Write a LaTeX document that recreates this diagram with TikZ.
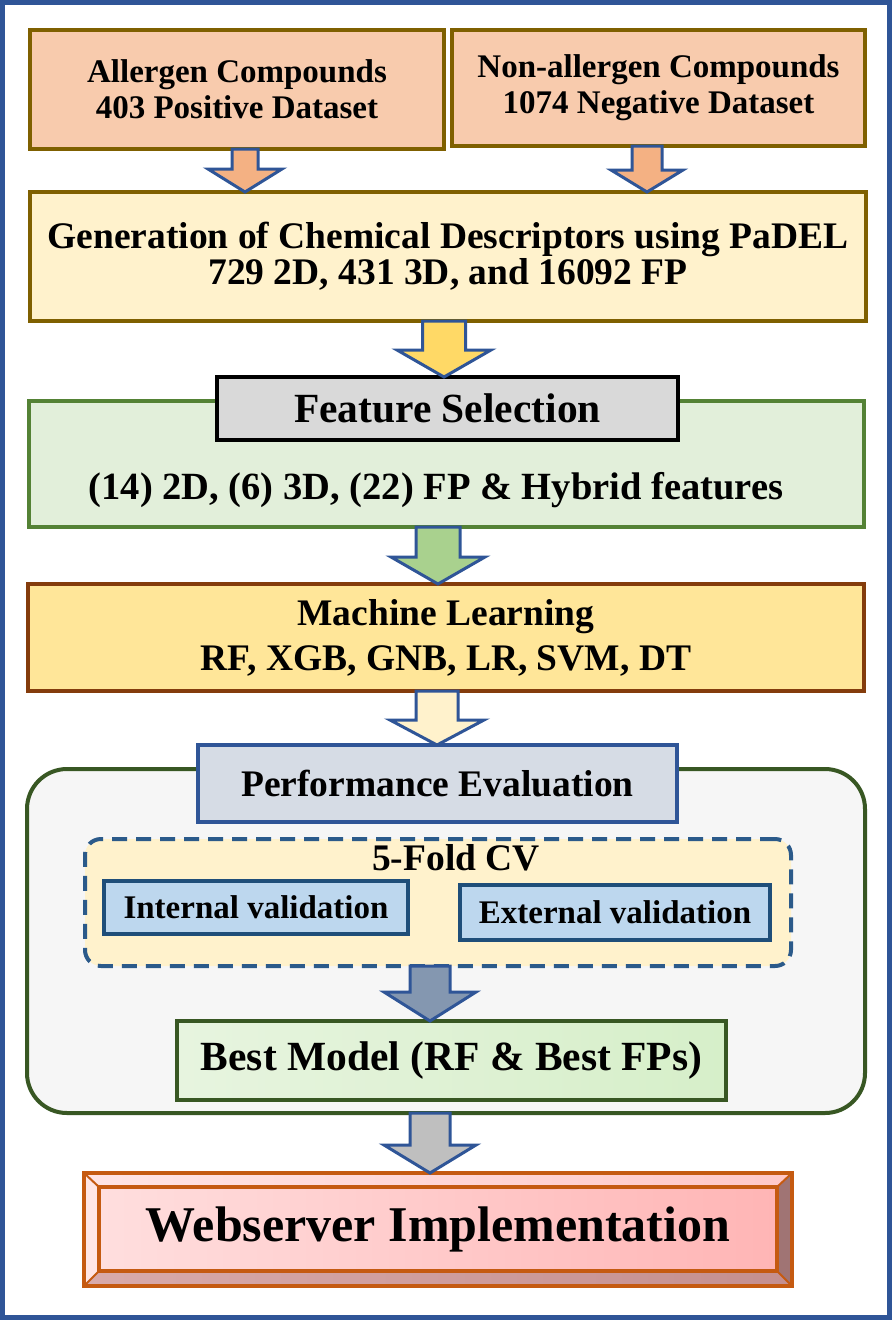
\documentclass[tikz,border=0pt]{standalone}
\usepackage{fontspec}
\setmainfont{Liberation Serif}
\usetikzlibrary{calc}
\definecolor{cFrame}{HTML}{2F5597}
\definecolor{cPeach}{HTML}{F8CBAD}
\definecolor{cOlive}{HTML}{7F6000}
\definecolor{cCream}{HTML}{FFF2CC}
\definecolor{cGreenFill}{HTML}{E2EFDA}
\definecolor{cGreenLine}{HTML}{548235}
\definecolor{cGray}{HTML}{D9D9D9}
\definecolor{cGold}{HTML}{FFE699}
\definecolor{cBrown}{HTML}{843C0C}
\definecolor{cBigFill}{HTML}{F6F6F6}
\definecolor{cDkGreen}{HTML}{385723}
\definecolor{cPerf}{HTML}{D6DCE5}
\definecolor{cDash}{HTML}{2B5A8A}
\definecolor{cBlueFill}{HTML}{BDD7EE}
\definecolor{cBlueLine}{HTML}{1F4E79}
\definecolor{cWebLine}{HTML}{C55A11}
\definecolor{cArrA}{HTML}{F4B183}
\definecolor{cArrB}{HTML}{FFD966}
\definecolor{cArrC}{HTML}{A9D18E}
\definecolor{cArrD}{HTML}{FFF2CC}
\definecolor{cArrE}{HTML}{8497B0}
\definecolor{cArrF}{HTML}{BFBFBF}
\definecolor{cBestL}{HTML}{E7F4DF}
\definecolor{cBestR}{HTML}{D6EFC9}
\definecolor{cWebL}{HTML}{FFDEDE}
\definecolor{cWebR}{HTML}{FFB5B5}
\definecolor{cBevTopL}{HTML}{FFE4E4}
\definecolor{cBevTopR}{HTML}{FFC8C8}
\definecolor{cBevLeft}{HTML}{FFE6E6}
\definecolor{cBevBotL}{HTML}{D8AAAA}
\definecolor{cBevBotR}{HTML}{C48F8F}
\definecolor{cBevRight}{HTML}{A07474}
\newcommand{\fsz}[2]{\fontsize{#1}{#2}\selectfont\bfseries}
% \boxnode{options}{name}{x1}{y1}{x2}{y2}{text}
\newcommand{\boxnode}[7]{%
  \node[#1, minimum width={(#5-#3)*1pt}, minimum height={(#6-#4)*1pt}]
    (#2) at ({(#3+#5)/2},{(#4+#6)/2}) {#7};}
\newcommand{\blockarr}[7]{%
  \draw[arrline, fill=#7] let \p1=(#1.south), \p2=(#2.north) in
    ({(#3-#4)*1pt},\y1) -- ({(#3+#4)*1pt},\y1) -- ({(#3+#4)*1pt},{\y2+#6pt})
    -- ({(#3+#5)*1pt},{\y2+#6pt}) -- ({#3pt},\y2) -- ({(#3-#5)*1pt},{\y2+#6pt})
    -- ({(#3-#4)*1pt},{\y2+#6pt}) -- cycle;}
\begin{document}
\begin{tikzpicture}[x=1pt,y=-1pt,
  box/.style={draw, line width=4pt, inner sep=0pt, outer sep=0pt, align=center},
  arrline/.style={draw=cFrame, line width=3pt, line join=miter},
  txt/.style={inner sep=0pt, align=center}]
\useasboundingbox (0,0) rectangle (893,1320);
\fill[white] (0,0) rectangle (893,1320);
\draw[cFrame, line width=5pt] (2.5,2.5) rectangle (889,1317.5);

% top boxes
\boxnode{box, fill=cPeach, draw=cOlive, font=\fsz{33}{36}}{allerg}{30}{30}{444}{149}{Allergen Compounds\\403 Positive Dataset}
\boxnode{box, fill=cPeach, draw=cOlive, font=\fsz{33}{36}}{nonall}{452}{30}{865}{146}{Non-allergen Compounds\\1074 Negative Dataset}
\boxnode{box, fill=cCream, draw=cOlive, font=\fsz{37.5}{36}}{gen}{30}{192}{866}{321}{Generation of Chemical Descriptors using PaDEL\\729 2D, 431 3D, and 16092 FP}

% feature selection
\boxnode{box, fill=cGreenFill, draw=cGreenLine}{green}{29}{401}{864}{527}{}
\node[txt, font=\fsz{38.5}{40}] (feat) at (436,490) {(14) 2D, (6) 3D, (22) FP \& Hybrid features};
\boxnode{box, fill=cGray, draw=black, font=\fsz{41.5}{42}}{fsel}{217}{377}{678}{440}{Feature Selection}

% machine learning
\boxnode{box, fill=cGold, draw=cBrown, font=\fsz{37.5}{45}}{ml}{28}{584}{864}{691}{Machine Learning\\RF, XGB, GNB, LR, SVM, DT}

% performance evaluation group
\boxnode{box, fill=cBigFill, draw=cDkGreen, rounded corners=40pt}{big}{27}{769}{865}{1113}{}
\boxnode{box, fill=cPerf, draw=cFrame, font=\fsz{37.5}{40}}{perf}{198}{745}{677}{822}{Performance Evaluation}
\boxnode{box, fill=cCream, draw=cDash, dash pattern=on 15pt off 9pt, rounded corners=16pt}{cv}{85}{839}{791}{966}{}
\node[txt, font=\fsz{37.5}{40}] (cvtxt) at (456,858) {5-Fold CV};
\boxnode{box, fill=cBlueFill, draw=cBlueLine, font=\fsz{33}{36}}{intv}{104}{881}{408}{934}{Internal validation}
\boxnode{box, fill=cBlueFill, draw=cBlueLine, font=\fsz{33}{36}}{extv}{460}{885}{770}{940}{External validation}
\boxnode{box, left color=cBestL, right color=cBestR, draw=cDkGreen, font=\fsz{41.5}{42}}{best}{177}{1021}{726}{1100}{Best Model (RF \& Best FPs)}

% webserver (bevelled box)
\boxnode{inner sep=0pt, outer sep=0pt}{webframe}{84}{1173}{792}{1286}{}
\boxnode{inner sep=0pt, outer sep=0pt, left color=cWebL, right color=cWebR, font=\fsz{50}{50}}{web}{99}{1187}{777}{1271}{Webserver Implementation}
\shade[left color=cBevTopL, right color=cBevTopR] (webframe.north west) -- (webframe.north east) -- (web.north east) -- (web.north west) -- cycle;
\fill[cBevLeft] (webframe.north west) -- (web.north west) -- (web.south west) -- (webframe.south west) -- cycle;
\shade[left color=cBevBotL, right color=cBevBotR] (webframe.south west) -- (web.south west) -- (web.south east) -- (webframe.south east) -- cycle;
\fill[cBevRight] (webframe.north east) -- (webframe.south east) -- (web.south east) -- (web.north east) -- cycle;
\draw[cWebLine, line width=3.5pt] (webframe.north west) rectangle (webframe.south east);
\draw[cWebLine, line width=3.5pt] (web.north west) rectangle (web.south east);
\draw[cWebLine, line width=2pt] (webframe.north west) -- (web.north west)
  (webframe.north east) -- (web.north east)
  (webframe.south east) -- (web.south east)
  (webframe.south west) -- (web.south west);

% block arrows
\blockarr{allerg}{gen}{245}{13}{37}{23}{cArrA}
\blockarr{nonall}{gen}{647}{15}{36}{22}{cArrA}
\blockarr{gen}{fsel}{444}{21.5}{47}{27}{cArrB}
\blockarr{green}{ml}{438}{22}{47}{27}{cArrC}
\blockarr{ml}{perf}{437}{21}{47}{25}{cArrD}
\blockarr{cv}{best}{430}{20}{46}{29}{cArrE}
\blockarr{big}{webframe}{430}{20}{46}{28}{cArrF}
\end{tikzpicture}
\end{document}
